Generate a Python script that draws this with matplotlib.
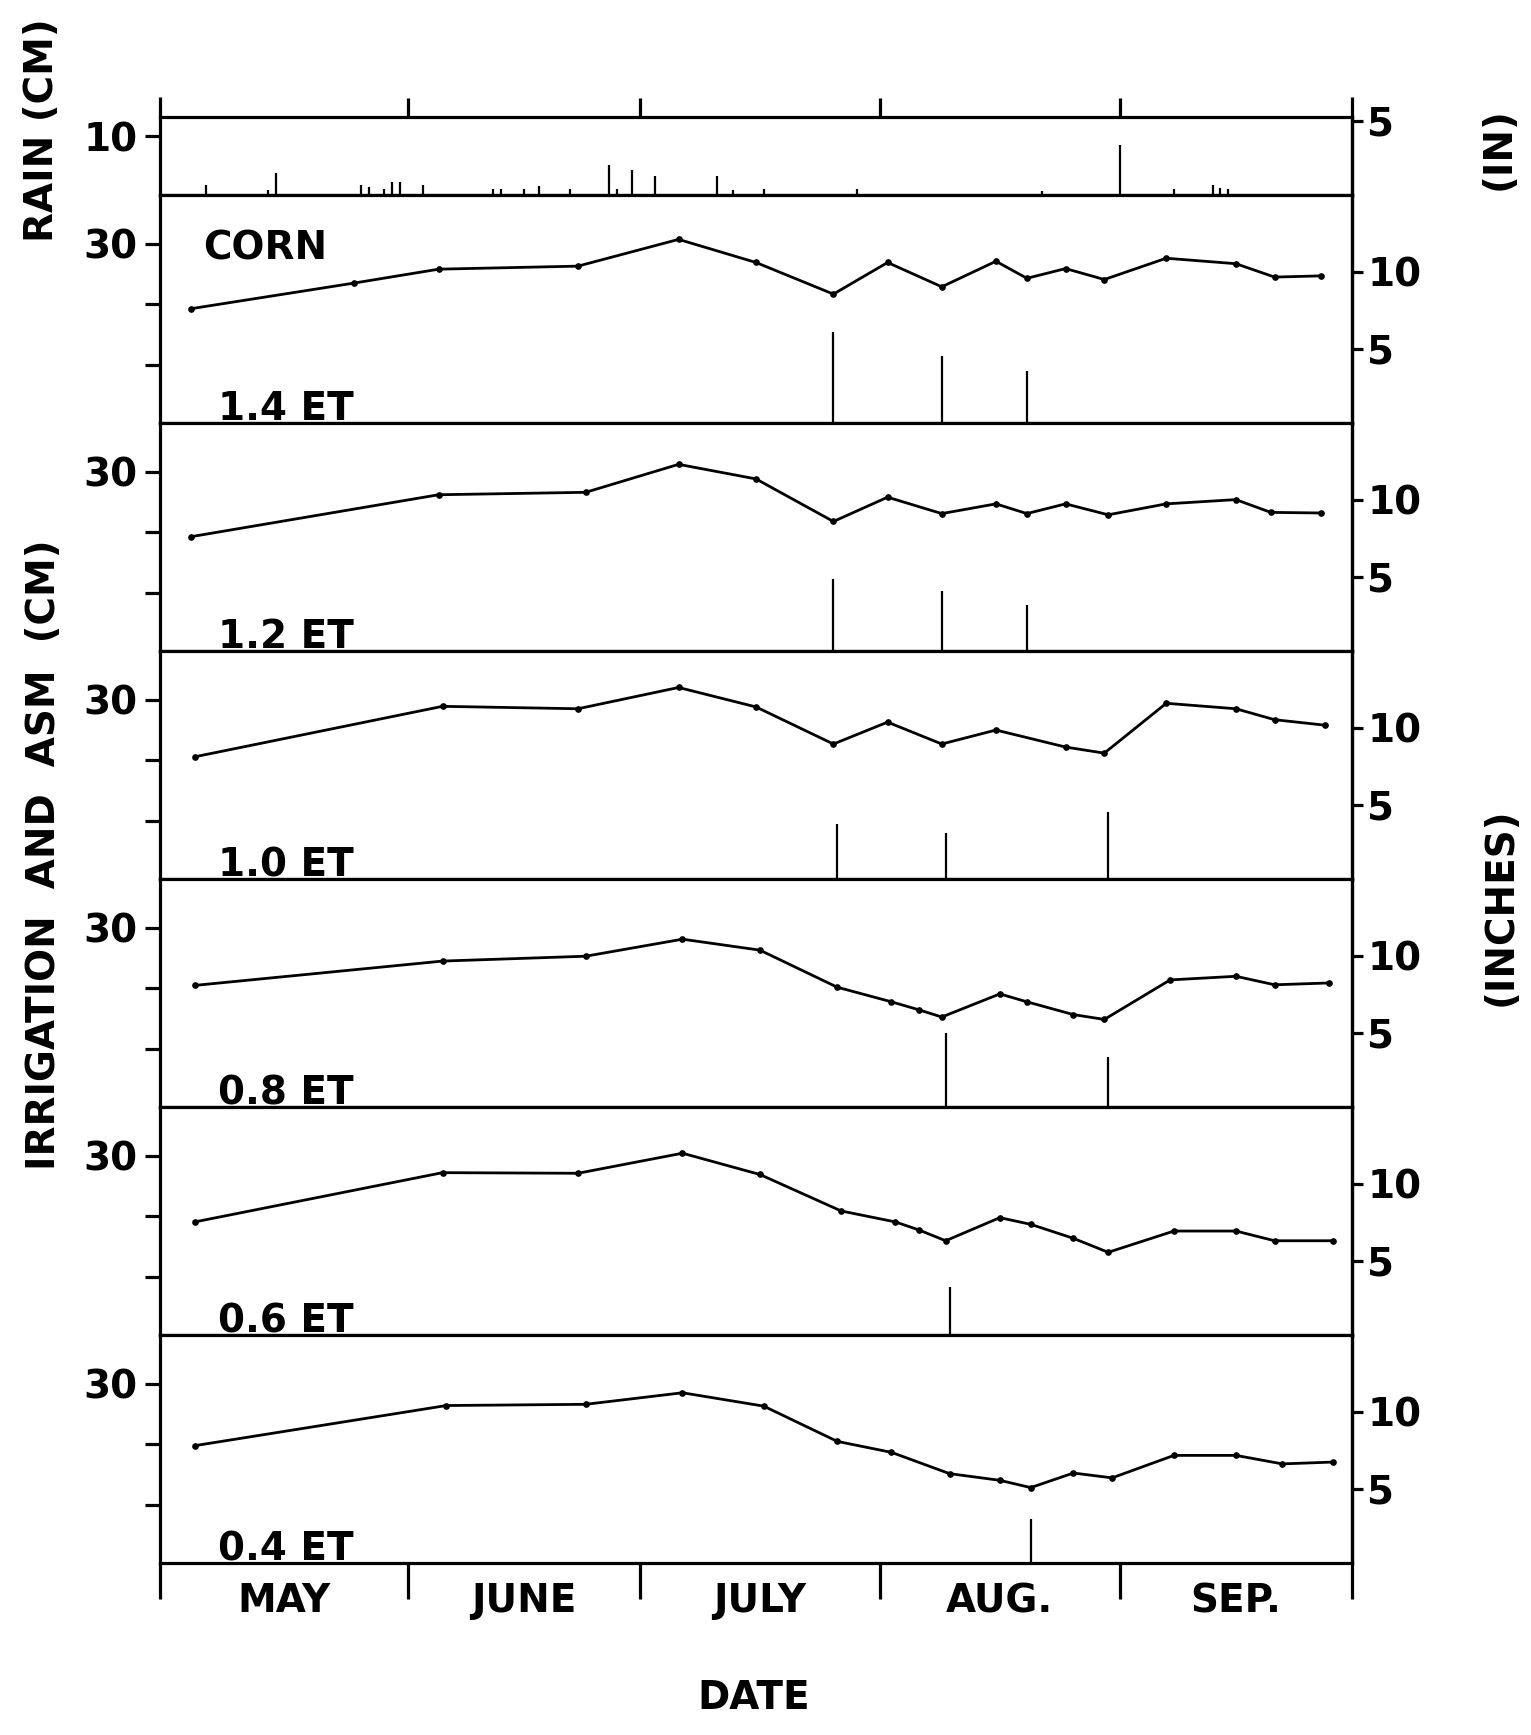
import matplotlib.pyplot as plt

plt.rcParams['font.family'] = ['DejaVu Sans']
plt.rcParams['font.weight'] = 'bold'

# x axis = days after May 1
months = ['MAY', 'JUNE', 'JULY', 'AUG.', 'SEP.']
month_edges = [31, 61, 92, 123]
month_mids = [15, 46, 76.5, 107.5, 138]

# daily rainfall (cm)
rain_days = [5, 13, 14, 25, 26, 28, 29, 30, 33, 42, 43, 46, 48, 52, 57, 58, 60, 63,
             71, 73, 77, 89, 113, 123, 130, 135, 136, 137]
rain_cm = [1.75, 0.9, 3.8, 1.75, 1.4, 1.0, 2.3, 2.3, 1.75, 1.0, 1.1, 1.1, 1.5, 1.1,
           5.1, 1.0, 4.2, 3.2, 3.2, 0.9, 1.1, 1.0, 0.7, 8.5, 1.0, 1.75, 1.2, 1.1]

# available soil moisture (cm) and irrigation (cm) for each treatment
asm_days_14 = [3, 24, 35, 53, 66, 76, 86, 93, 100, 107, 111, 116, 121, 129, 138, 143, 149]
asm_14 = [19.3, 23.5, 25.8, 26.3, 30.7, 26.9, 21.7, 26.9, 22.9, 27.1, 24.3, 25.9,
          24.1, 27.6, 26.7, 24.5, 24.7]
irr_days_14 = [86, 100, 111]
irr_14 = [15.4, 11.6, 9.1]

asm_days_12 = [3, 35, 54, 66, 76, 86, 93, 100, 107, 111, 116, 121.5, 129, 138, 142.5, 149]
asm_12 = [19.3, 26.2, 26.6, 31.2, 28.8, 21.8, 25.8, 23.1, 24.7, 23.1, 24.7, 22.9,
          24.7, 25.4, 23.3, 23.2]
irr_days_12 = [86, 100, 111]
irr_12 = [12.4, 10.4, 8.0]

asm_days_10 = [3.5, 35.5, 53, 66, 76, 86, 93, 100, 107, 116, 121, 129, 138, 143, 149.5]
asm_10 = [20.6, 28.9, 28.5, 32.0, 28.8, 22.7, 26.3, 22.7, 25.0, 22.2, 21.2, 29.4,
          28.5, 26.7, 25.8]
irr_days_10 = [86.5, 100.5, 121.5]
irr_10 = [9.5, 8.0, 11.6]

asm_days_08 = [3.5, 35.5, 54, 66.5, 76.5, 86.5, 93.5, 97, 100, 107.5, 111, 117, 121,
               129.5, 138, 143, 150]
asm_08 = [20.5, 24.5, 25.3, 28.1, 26.3, 20.2, 17.8, 16.5, 15.3, 19.1, 17.8, 15.7,
          14.9, 21.4, 22.0, 20.6, 20.9]
irr_days_08 = [100.5, 121.5]
irr_08 = [12.7, 8.7]

asm_days_06 = [3.5, 35.5, 53, 66.5, 76.5, 87, 94, 97, 100.5, 107.5, 111.5, 117, 121.5,
               130, 138, 143, 150.5]
asm_06 = [19.1, 27.2, 27.1, 30.4, 26.9, 20.9, 19.1, 17.8, 16.0, 19.8, 18.7, 16.4,
          14.1, 17.6, 17.6, 16.0, 16.0]
irr_days_06 = [101]
irr_06 = [8.4]

asm_days_04 = [3.5, 36, 54, 66.5, 77, 86.5, 93.5, 101, 107.5, 111.5, 117, 122, 130,
               138, 144, 150.5]
asm_04 = [19.8, 26.4, 26.6, 28.5, 26.3, 20.5, 18.7, 15.2, 14.1, 12.9, 15.3, 14.5,
          18.2, 18.2, 16.8, 17.1]
irr_days_04 = [111.5]
irr_04 = [7.8]

panels = [
    ('1.4 ET', asm_days_14, asm_14, irr_days_14, irr_14),
    ('1.2 ET', asm_days_12, asm_12, irr_days_12, irr_12),
    ('1.0 ET', asm_days_10, asm_10, irr_days_10, irr_10),
    ('0.8 ET', asm_days_08, asm_08, irr_days_08, irr_08),
    ('0.6 ET', asm_days_06, asm_06, irr_days_06, irr_06),
    ('0.4 ET', asm_days_04, asm_04, irr_days_04, irr_04),
]

W_PX, H_PX = 1531, 1735
FS = 28
SPINE = 2.3
fig = plt.figure(figsize=(W_PX / 100, H_PX / 100), dpi=100)

left_px, right_px = 160, 1352
def rect(top, bottom):
    return [left_px / W_PX, 1 - bottom / H_PX, (right_px - left_px) / W_PX,
            (bottom - top) / H_PX]

cm2in = (lambda c: c / 2.54, lambda i: i * 2.54)

def style(ax):
    ax.set_xlim(-1, 153)
    for s in ax.spines.values():
        s.set_linewidth(SPINE)
    ax.tick_params(axis='y', direction='out', length=11, width=SPINE,
                   labelsize=FS, pad=5)

# rain panel
rain_top, rain_bot = 117, 195
ax_r = fig.add_axes(rect(rain_top, rain_bot))
style(ax_r)
ax_r.vlines(rain_days, 0, rain_cm, color='k', lw=1.6)
ax_r.set_ylim(0, 13.3)
ax_r.set_yticks([10])
ax_r.set_yticklabels(['10'])
ax_r.xaxis.set_ticks_position('top')
ax_r.set_xticks(month_edges)
ax_r.tick_params(axis='x', direction='out', length=14, width=SPINE, labeltop=False)
ext = 20 / (rain_bot - rain_top)
for xa in (0, 1):
    ax_r.plot([xa, xa], [1, 1 + ext], transform=ax_r.transAxes, color='k',
              lw=SPINE, clip_on=False, solid_capstyle='butt')
sec = ax_r.secondary_yaxis('right', functions=cm2in)
sec.set_yticks([5])
sec.tick_params(direction='out', length=8, width=SPINE, labelsize=FS, pad=3)
sec.spines['right'].set_linewidth(SPINE)

# treatment panels
ph = 228
axes = []
for i, (lab, d, v, idays, irr) in enumerate(panels):
    top = rain_bot + ph * i
    ax = fig.add_axes(rect(top, top + ph))
    style(ax)
    ax.plot(d, v, color='k', lw=2.0, marker='o', ms=3.8)
    ax.vlines(idays, 0, irr, color='k', lw=1.6)
    ax.set_ylim(0.5, 38)
    ax.set_yticks([10, 20, 30])
    ax.set_yticklabels(['', '', '30'])
    ax.set_xticks([])
    sec = ax.secondary_yaxis('right', functions=cm2in)
    sec.set_yticks([5, 10])
    sec.tick_params(direction='out', length=8, width=SPINE, labelsize=FS, pad=3)
    sec.spines['right'].set_linewidth(SPINE)
    ax.text(0.049, 0.012, lab, transform=ax.transAxes, fontsize=FS,
            va='baseline', ha='left')
    if i == 0:
        ax.text(0.036, 0.765, 'CORN', transform=ax.transAxes, fontsize=FS,
                va='center', ha='left')
    axes.append(ax)

ax_b = axes[-1]
ax_b.set_xticks(month_edges)
ax_b.tick_params(axis='x', direction='out', length=26, width=SPINE, labelbottom=False)
ax_b.set_xticks(month_mids, minor=True)
ax_b.set_xticklabels(months, minor=True)
ax_b.tick_params(axis='x', which='minor', length=0, labelsize=FS, pad=14)
ext = 36 / ph
for xa in (0, 1):
    ax_b.plot([xa, xa], [0, -ext], transform=ax_b.transAxes, color='k',
              lw=SPINE, clip_on=False, solid_capstyle='butt')

fig.text(42 / W_PX, 1 - 130 / H_PX, 'RAIN (CM)', rotation=90, fontsize=FS,
         ha='center', va='center')
fig.text(44 / W_PX, 1 - 855 / H_PX, 'IRRIGATION  AND  ASM  (CM)', rotation=90,
         fontsize=FS, ha='center', va='center')
fig.text(1499 / W_PX, 1 - 149 / H_PX, '(IN)', rotation=90, fontsize=FS,
         ha='center', va='center')
fig.text(1501 / W_PX, 1 - 907 / H_PX, '(INCHES)', rotation=90, fontsize=FS,
         ha='center', va='center')
fig.text(754 / W_PX, 1 - 1698 / H_PX, 'DATE', fontsize=FS, ha='center', va='center')

fig.savefig('out.png', dpi=100, facecolor='white')
